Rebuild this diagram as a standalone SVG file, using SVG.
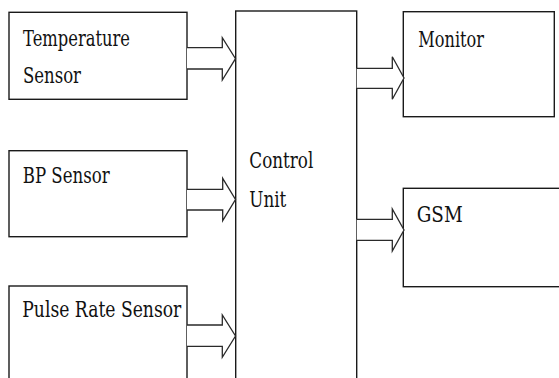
<svg xmlns="http://www.w3.org/2000/svg" width="559" height="378" viewBox="0 0 559 378">
<style>
.box{fill:#fff;stroke:#1a1a1a;stroke-width:1.4}
.arr{fill:#fff;stroke:#2a2a2a;stroke-width:1.3;stroke-linejoin:miter}
text{font-family:'DejaVu Serif','Liberation Serif','Times New Roman',Times,serif;font-size:23px;fill:#111}
</style>
<rect width="559" height="378" fill="#fff"/>
<g id="control-unit">
<rect class="box" x="235.7" y="11" width="121" height="380"/>
<text x="249.3" y="168.3" textLength="64" lengthAdjust="spacingAndGlyphs">Control</text>
<text x="249.3" y="206.7" textLength="37" lengthAdjust="spacingAndGlyphs">Unit</text>
</g>
<g id="temperature-sensor">
<rect class="box" x="9" y="12.3" width="178" height="87"/>
<text x="23" y="46" textLength="107" lengthAdjust="spacingAndGlyphs">Temperature</text>
<text x="23" y="82.5" textLength="58" lengthAdjust="spacingAndGlyphs">Sensor</text>
</g>
<g id="bp-sensor">
<rect class="box" x="9" y="150.7" width="178" height="86"/>
<text x="22.7" y="183.3" textLength="87" lengthAdjust="spacingAndGlyphs">BP Sensor</text>
</g>
<g id="pulse-rate-sensor">
<rect class="box" x="9" y="286" width="178" height="110"/>
<text x="22.3" y="316.7" textLength="159" lengthAdjust="spacingAndGlyphs">Pulse Rate Sensor</text>
</g>
<g id="monitor">
<rect class="box" x="403.3" y="11.7" width="151" height="105"/>
<text x="418.3" y="46.7" textLength="65.7" lengthAdjust="spacingAndGlyphs">Monitor</text>
</g>
<g id="gsm">
<rect class="box" x="403.3" y="188.3" width="170" height="98.4"/>
<text x="416.7" y="221.7" textLength="46" lengthAdjust="spacingAndGlyphs">GSM</text>
</g>
<g id="connectors">
<path class="arr" d="M187,47.7 H222.3 V37.7 L235.5,58.7 L222.3,80 V69 H187"/>
<path class="arr" d="M187,189.3 H222.7 V178.3 L235.5,199.5 L222.7,220.7 V210 H187"/>
<path class="arr" d="M187,325 H222.3 V315 L235.5,336 L222.3,357.3 V346.3 H187"/>
<path class="arr" d="M356.7,68.3 H392.3 V56.7 L404,78 L392.3,99.3 V88.3 H356.7"/>
<path class="arr" d="M356.7,219.3 H392.3 V209 L404,230 L392.3,251 V240.3 H356.7"/>
</g>
</svg>
